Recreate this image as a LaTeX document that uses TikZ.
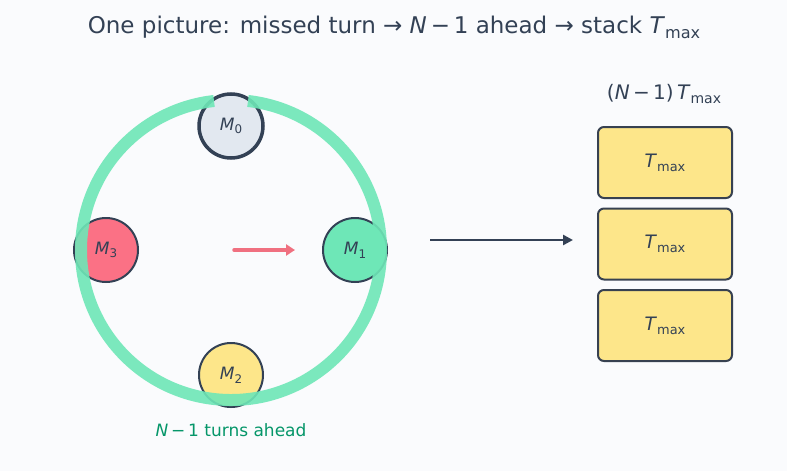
\documentclass[tikz,border=0pt]{standalone}
\usepackage{fontspec}
\setmainfont{DejaVu Sans}
\usetikzlibrary{arrows.meta,calc}
\definecolor{bg}{HTML}{FAFBFD}
\definecolor{ink}{HTML}{334155}
\definecolor{boxink}{HTML}{374151}
\definecolor{mint}{HTML}{6EE7B7}
\definecolor{sand}{HTML}{FDE68A}
\definecolor{rose}{HTML}{FB7185}
\definecolor{slatefill}{HTML}{E2E8F0}
\definecolor{tealtext}{HTML}{059669}
\definecolor{redarrow}{HTML}{F07080}
\newcommand\mi[1]{\textit{#1}}
\newcommand\lowsub[1]{\raisebox{-0.22em}{\scalebox{0.7}{#1}}}
\newcommand\tmax{\mi{T}\lowsub{max}}
\newcommand\nmo{\mi{N}\,−\,1}
\tikzset{
  machine/.style={circle, minimum size=64pt, inner sep=0pt, draw=ink, line width=2pt, text=ink, font=\fontsize{17}{19}\selectfont},
  stackbox/.style={rectangle, rounded corners=6pt, minimum width=134pt, minimum height=71pt, fill=sand, draw=boxink, line width=2pt, text=ink, font=\fontsize{18.5}{20}\selectfont},
  ring/.style={mint, line width=12pt, opacity=0.9},
}
\begin{document}
\begin{tikzpicture}[x=1pt,y=-1pt]
\fill[bg] (0,0) rectangle (787,471);
\useasboundingbox (0,0) rectangle (787,471);
\node[text=ink, font=\fontsize{23}{26}\selectfont] (title) at (394,27) {One picture: missed turn → \nmo{} ahead → stack \tmax};
\coordinate (c) at (231,250);
\node[machine, fill=slatefill, line width=3.5pt] (m0) at (231,126) {\mi{M}\lowsub{0}};
\node[machine, fill=mint] (m1) at (355,250) {\mi{M}\lowsub{1}};
\node[machine, fill=sand] (m2) at (231,375) {\mi{M}\lowsub{2}};
\node[machine, fill=rose] (m3) at (106,250) {\mi{M}\lowsub{3}};
\draw[ring] ($(c)+(83.5:150pt)$) arc[start angle=83.5, end angle=-263.5, radius=150pt];
\coordinate (ra) at (234,250);
\coordinate (rb) at (295,250);
\draw[redarrow, line width=3.5pt, line cap=round, -{Triangle[length=9pt,width=11pt]}] (ra) -- (rb);
\node[text=tealtext, font=\fontsize{17}{19}\selectfont] (lab) at (231,430) {\nmo{} turns ahead};
\coordinate (aa) at (430,240);
\coordinate (ab) at (573,240);
\draw[ink, line width=2.5pt, -{Triangle[length=10pt,width=10pt]}] (aa) -- (ab);
\node[text=ink, font=\fontsize{20}{22}\selectfont] (sum) at (664,94) {(\nmo)\,\tmax};
\node[stackbox] (b1) at (665,162.5) {\tmax};
\node[stackbox] (b2) at (665,244) {\tmax};
\node[stackbox] (b3) at (665,325.5) {\tmax};
\end{tikzpicture}
\end{document}
